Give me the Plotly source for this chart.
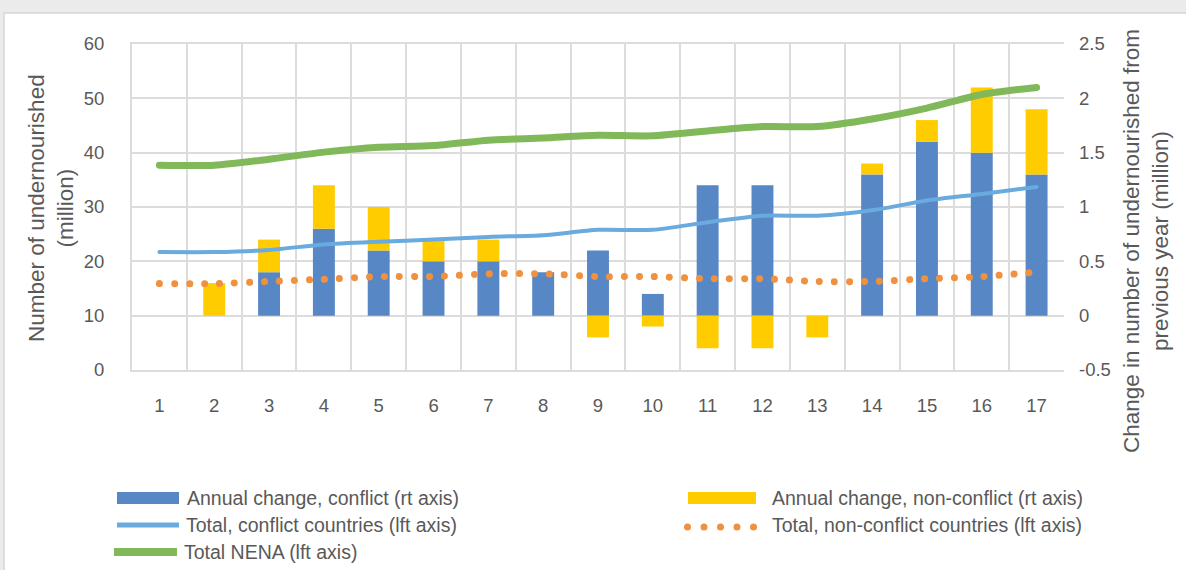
import plotly.graph_objects as go

# ---- data ----------------------------------------------------------------
years = [str(i) for i in range(1, 18)]

# annual change in number of undernourished (million), right axis
change_conflict = [None, 0, 0.4, 0.8, 0.6, 0.5, 0.5, 0.4, 0.6, 0.2, 1.2, 1.2, 0, 1.3, 1.6, 1.5, 1.3]
change_nonconflict = [None, 0.3, 0.3, 0.4, 0.4, 0.2, 0.2, 0, -0.2, -0.1, -0.3, -0.3, -0.2, 0.1, 0.2, 0.6, 0.6]

# totals (million), left axis
total_conflict = [21.7, 21.7, 22.1, 23.1, 23.6, 24.0, 24.5, 24.8, 25.8, 25.8, 27.2, 28.4, 28.4, 29.4, 31.2, 32.4, 33.7]
total_nonconflict = [15.9, 15.9, 16.3, 16.7, 17.2, 17.2, 17.7, 17.7, 17.2, 17.2, 16.8, 16.8, 16.3, 16.3, 16.8, 17.2, 18.0]
total_nena = [37.7, 37.7, 38.8, 40.1, 41.0, 41.3, 42.3, 42.7, 43.2, 43.1, 44.0, 44.8, 44.8, 46.2, 48.2, 50.7, 52.0]

left_ticks = [0, 10, 20, 30, 40, 50, 60]
right_ticks = [-0.5, 0, 0.5, 1, 1.5, 2, 2.5]

# ---- style ---------------------------------------------------------------
BLUE_BAR = "#5787C5"
YELLOW = "#FFCC00"
LIGHT_BLUE = "#69AADF"
ORANGE = "#F0913F"
GREEN = "#80B85A"
GRID = "#DCDCDC"
TEXT = "#595959"
FONT = "Liberation Sans"

W, H = 1186, 570
L, R, T, B = 132, 1064, 44, 370  # plot area in pixels


def px(x):
    return (x - L) / (R - L)


def py(y):
    return (B - y) / (B - T)


fig = go.Figure()

# stacked annual-change bars (right scale)
fig.add_trace(go.Bar(x=years, y=change_conflict, marker_color=BLUE_BAR,
                     marker_line_width=0, yaxis="y", showlegend=False))
fig.add_trace(go.Bar(x=years, y=change_nonconflict, marker_color=YELLOW,
                     marker_line_width=0, yaxis="y", showlegend=False))

# totals (left scale), drawn over the bars
fig.add_trace(go.Scatter(x=years, y=total_conflict, mode="lines", yaxis="y2",
                         line=dict(color=LIGHT_BLUE, width=4, shape="spline", smoothing=0.7),
                         showlegend=False))
fig.add_trace(go.Scatter(x=years, y=total_nonconflict, mode="lines", yaxis="y2",
                         line=dict(color=ORANGE, width=7, dash="7px,8px", shape="spline", smoothing=0.7),
                         showlegend=False))
fig.add_trace(go.Scatter(x=years, y=total_nena, mode="lines", yaxis="y2",
                         line=dict(color=GREEN, width=7, shape="spline", smoothing=0.7),
                         showlegend=False))

shapes = []
# chart area panel on the grey page
shapes.append(dict(type="rect", xref="paper", yref="paper", layer="below",
                   x0=px(4), x1=px(W + 5), y0=py(13), y1=py(H + 5),
                   fillcolor="white", line=dict(color="#D6D6D6", width=1.5)))

# legend keys
shapes.append(dict(type="rect", xref="paper", yref="paper",
                   x0=px(117), x1=px(179), y0=py(492), y1=py(504),
                   fillcolor=BLUE_BAR, line_width=0))
shapes.append(dict(type="rect", xref="paper", yref="paper",
                   x0=px(688), x1=px(756), y0=py(492), y1=py(504),
                   fillcolor=YELLOW, line_width=0))
shapes.append(dict(type="line", xref="paper", yref="paper",
                   x0=px(117), x1=px(179), y0=py(525), y1=py(525),
                   line=dict(color=LIGHT_BLUE, width=5)))
shapes.append(dict(type="line", xref="paper", yref="paper",
                   x0=px(114), x1=px(177), y0=py(552), y1=py(552),
                   line=dict(color=GREEN, width=8)))
for cx in [687.5, 704, 720.5, 737, 753.5]:
    shapes.append(dict(type="circle", xref="paper", yref="paper",
                       x0=px(cx - 3.5), x1=px(cx + 3.5), y0=py(523.5), y1=py(530.5),
                       fillcolor=ORANGE, line_width=0))

annotations = []
legend_items = [
    ("Annual change, conflict (rt axis)", 185, 498),
    ("Annual change, non-conflict (rt axis)", 770, 498),
    ("Total, conflict countries (lft axis)", 184, 525),
    ("Total, non-conflict countries (lft axis)", 770, 525),
    ("Total NENA (lft axis)", 182, 552),
]
for text, x, y in legend_items:
    annotations.append(dict(text=text, xref="paper", yref="paper", x=px(x), y=py(y),
                            xanchor="left", yanchor="middle", showarrow=False,
                            font=dict(family=FONT, size=19.5, color=TEXT)))

# axis titles
annotations.append(dict(text="Number of undernourished<br>(million)", textangle=-90,
                        xref="paper", yref="paper", x=px(51), y=py(208),
                        xanchor="center", yanchor="middle", showarrow=False,
                        font=dict(family=FONT, size=22.5, color=TEXT)))
annotations.append(dict(text="Change in number of undernourished from<br>previous year (million)",
                        textangle=-90, xref="paper", yref="paper", x=px(1146), y=py(241),
                        xanchor="center", yanchor="middle", showarrow=False,
                        font=dict(family=FONT, size=22.5, color=TEXT)))

fig.update_layout(
    width=W, height=H,
    margin=dict(l=L, r=W - R, t=T, b=H - B, pad=0),
    paper_bgcolor="#EBEBEB",
    plot_bgcolor="white",
    barmode="relative",
    bargap=0.6,
    font=dict(family=FONT, size=18, color=TEXT),
    shapes=shapes,
    annotations=annotations,
    xaxis=dict(type="category", tickson="boundaries", showgrid=True, gridcolor=GRID,
               gridwidth=2, showline=True, linecolor=GRID, linewidth=2, mirror=True,
               ticks="", ticklabelstandoff=18, tickfont=dict(size=18.5, color=TEXT),
               zeroline=False),
    yaxis=dict(side="right", range=[-0.5, 2.5], tickvals=right_ticks,
               ticktext=[f"{v:g}" for v in right_ticks], showgrid=False,
               zeroline=False, showline=False, ticklabelstandoff=14,
               tickfont=dict(size=18.5, color=TEXT)),
    yaxis2=dict(side="left", overlaying="y", range=[0, 60], tickvals=left_ticks,
                showgrid=True, gridcolor=GRID, gridwidth=2, zeroline=False,
                showline=True, linecolor=GRID, linewidth=2, ticklabelstandoff=22,
                tickfont=dict(size=18.5, color=TEXT)),
)

# round line ends, and round dots for the dotted non-conflict total
round_caps = """
var gd = document.querySelector('.plotly-graph-div');
var lines = gd.querySelectorAll('.scatterlayer .trace path.js-line');
lines.forEach(function (p, i) {
    p.style.setProperty('stroke-linecap', 'round');
    if (i === 1) { p.style.setProperty('stroke-dasharray', '0.01px,15px'); }
});
"""

fig.write_html("out.html", post_script=round_caps)
